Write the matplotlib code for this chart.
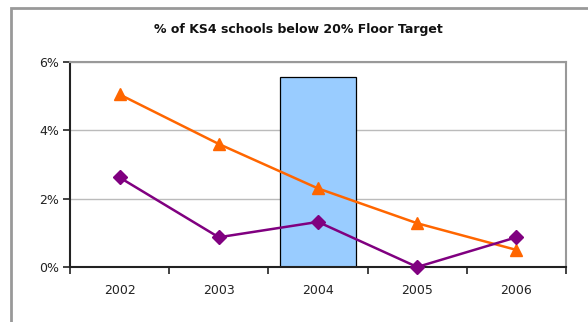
import numpy as np
import matplotlib.pyplot as plt
from matplotlib.patches import Rectangle
from matplotlib.ticker import FuncFormatter

years = ["2002", "2003", "2004", "2005", "2006"]
series_orange = [5.05, 3.6, 2.3, 1.28, 0.5]
series_purple = [2.62, 0.87, 1.32, 0.0, 0.87]
bar_value = 5.55  # highlighted year bar
bar_year = "2004"

W, H = 588, 322
fig = plt.figure(figsize=(W / 100, H / 100), dpi=100)
plt.rcParams["font.family"] = "DejaVu Sans"

# outer chart frame
fig.patches.append(Rectangle((11 / W, -0.1), 1.2, 1.1 - 8.5 / H, transform=fig.transFigure,
                             fill=False, edgecolor="#999999", linewidth=2, zorder=0))

ax = fig.add_axes([70 / W, 1 - 267 / H, (566 - 70) / W, (267 - 62) / H])
x = np.arange(len(years))

ax.bar(years.index(bar_year), bar_value, width=0.77, color="#99CCFF",
       edgecolor="black", linewidth=0.9, zorder=2)
ax.plot(x, series_orange, color="#FF6600", marker="^", markersize=9,
        linewidth=1.8, zorder=3, clip_on=False)
ax.plot(x, series_purple, color="#800080", marker="D", markersize=7,
        linewidth=1.8, zorder=4, clip_on=False)

ax.set_xlim(-0.5, len(years) - 0.5)
ax.set_ylim(0, 6)
ax.set_yticks([0, 2, 4, 6])
ax.yaxis.set_major_formatter(FuncFormatter(lambda v, p: f"{v:.0f}%"))
ax.set_xticks(x)
ax.set_xticklabels(years)
ax.set_xticks(np.arange(-0.5, len(years)), minor=True)
ax.tick_params(axis="x", which="major", length=0, pad=12, labelsize=9, colors="#222222")
ax.tick_params(axis="x", which="minor", length=5, width=1.2, color="#222222", direction="out")
ax.tick_params(axis="y", length=5, width=1.2, labelsize=9, pad=3, colors="#222222")

ax.grid(axis="y", color="#BBBBBB", linewidth=1, zorder=0)
ax.set_axisbelow(True)
ax.spines["left"].set_color("#222222")
ax.spines["left"].set_linewidth(1.5)
ax.spines["bottom"].set_color("#222222")
ax.spines["bottom"].set_linewidth(1.5)
ax.spines["top"].set_color("#999999")
ax.spines["top"].set_linewidth(1.5)
ax.spines["right"].set_color("#999999")
ax.spines["right"].set_linewidth(1.5)

fig.text(298 / W, 1 - 29 / H, "% of KS4 schools below 20% Floor Target",
         ha="center", va="center", fontsize=9, fontweight="bold", color="#111111")

fig.savefig("out.png", dpi=100)
